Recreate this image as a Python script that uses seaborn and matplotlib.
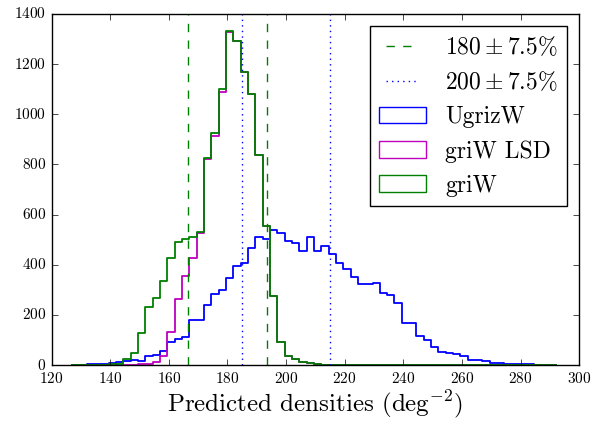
import numpy as np
import pandas as pd
import matplotlib
matplotlib.use("Agg")
import matplotlib.pyplot as plt
import seaborn as sns
from matplotlib.patches import Patch
from matplotlib.lines import Line2D

# bordas dos bins (largura 2.5)
bin_edges = np.arange(127, 292.5, 2.5)
bin_centers = 0.5 * (bin_edges[:-1] + bin_edges[1:])

# contagens
ugrizw = [0, 1, 3, 4, 5, 7, 10, 16, 20, 17, 34, 41, 56, 90, 102, 113, 180, 180,
          239, 282, 298, 348, 396, 406, 465, 512, 503, 539, 527, 496, 488, 456,
          509, 456, 475, 441, 408, 382, 350, 322, 322, 326, 289, 279, 249, 169,
          169, 116, 100, 73, 53, 47, 42, 35, 20, 20, 16, 9, 9, 5, 5, 4, 3, 2, 0, 0]
griw_lsd = [0, 0, 0, 0, 0, 0, 0, 1, 2, 4, 5, 12, 36, 130, 262, 355, 428, 528,
            820, 915, 1090, 1328, 1290, 1167, 1079, 837, 554, 274, 93, 36, 23, 13,
            7, 3, 1, 0, 0, 0, 0, 0, 0, 0, 0, 0, 0, 0,
            0, 0, 0, 0, 0, 0, 0, 0, 0, 0, 0, 0, 0, 0, 0, 0, 0, 0, 0, 0]
griw = [0, 0, 0, 0, 1, 3, 6, 25, 49, 126, 233, 266, 336, 428, 492, 501, 512, 531,
        827, 924, 1100, 1332, 1293, 1169, 1080, 838, 555, 275, 93, 36, 23, 13,
        7, 3, 1, 0, 0, 0, 0, 0, 0, 0, 0, 0, 0, 0,
        0, 0, 0, 0, 0, 0, 0, 0, 0, 0, 0, 0, 0, 0, 0, 0, 0, 0, 0, 0]

centros = [180, 200]
frac = 0.075

plt.style.use("classic")
plt.rcParams["font.family"] = "serif"
plt.rcParams["font.serif"] = ["cmr10"]
plt.rcParams["mathtext.fontset"] = "cm"
plt.rcParams["axes.formatter.use_mathtext"] = True
plt.rcParams["axes.unicode_minus"] = False

fig = plt.figure(figsize=(6.12, 4.21), dpi=100, facecolor="white")
ax = fig.add_axes([0.0843, 0.133, 0.862, 0.834])

series = [("UgrizW", ugrizw, "b"), ("griW LSD", griw_lsd, "m"), ("griW", griw, "g")]
for nome, vals, cor in series:
    df = pd.DataFrame({"x": bin_centers, "w": vals})
    sns.histplot(data=df, x="x", weights="w", bins=list(bin_edges), element="step",
                 fill=False, color=cor, linewidth=1.3, ax=ax)

for v in [centros[0] * (1 - frac), centros[0] * (1 + frac)]:
    ax.axvline(v, color="g", linestyle="--", linewidth=1.0)
for v in [centros[1] * (1 - frac), centros[1] * (1 + frac)]:
    ax.axvline(v, color="b", linestyle=":", linewidth=1.0)

ax.set_xlim(120, 300)
ax.set_ylim(0, 1400)
ax.set_xticks(np.arange(120, 301, 20))
ax.set_yticks(np.arange(0, 1401, 200))
ax.tick_params(labelsize=11)
ax.set_xlabel(r"Predicted densities (deg$^{-2}$)", fontsize=18, labelpad=2)
ax.set_ylabel("")

handles = [Line2D([], [], color="g", linestyle="--"),
           Line2D([], [], color="b", linestyle=":"),
           Patch(facecolor="none", edgecolor="b"),
           Patch(facecolor="none", edgecolor="m"),
           Patch(facecolor="none", edgecolor="g")]
labels = [r"$180 \pm 7.5\%$", r"$200 \pm 7.5\%$", "UgrizW", "griW LSD", "griW"]
ax.legend(handles, labels, loc="upper right", fontsize=17, numpoints=2,
          borderaxespad=0.5)

fig.savefig("out.png", dpi=100, facecolor="white")
